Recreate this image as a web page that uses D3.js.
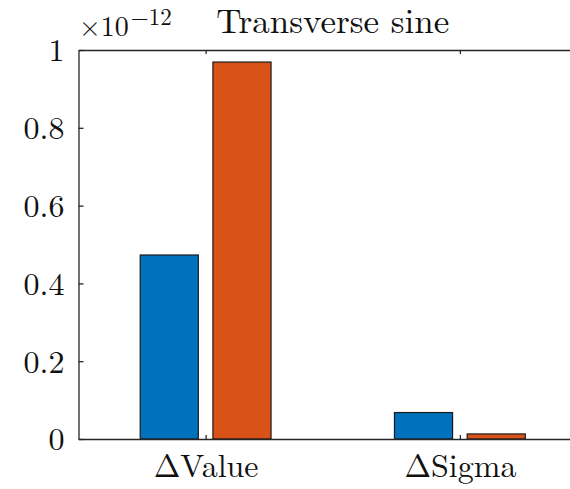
<!DOCTYPE html>
<head>
  <meta charset="utf-8">
  <title>Transverse sine</title>
  <script src="https://d3js.org/d3.v7.min.js"></script>
  <style>
    body { margin: 0; background: #fff; }
  </style>
</head>
<body>
<script type="text/javascript">

  // data (values in units of 1e-12)
  var categories = ["\u0394Value", "\u0394Sigma"];
  var series1 = [0.473, 0.068];   // blue
  var series2 = [0.969, 0.013];   // orange
  var yTicks = [0, 0.2, 0.4, 0.6, 0.8, 1];
  var yTickLabels = ["0", "0.2", "0.4", "0.6", "0.8", "1"];

  var w = 570;
  var h = 489;
  var font = "'Latin Modern Roman', 'CMU Serif', 'Liberation Serif', serif";

  var svg = d3.select("body")
    .append("svg")
    .attr("width", w)
    .attr("height", h);

  // MATLAB style: xlim [0.5, 2.5], axes cropped at the right
  var xScale = d3.scaleLinear()
    .domain([0.5, 2.5])
    .range([78.5, 587]);

  var yScale = d3.scaleLinear()
    .domain([0, 1])
    .range([439, 50]);

  var barW = 0.2286;
  var offs = [-0.143, 0.143];
  var colors = ["#0072BD", "#D95319"];

  var bars = [];
  categories.forEach(function(c, i) {
    bars.push({x: i + 1 + offs[0], v: series1[i], s: 0});
    bars.push({x: i + 1 + offs[1], v: series2[i], s: 1});
  });

  svg.selectAll("rect.bar")
    .data(bars)
    .enter()
    .append("rect")
    .attr("class", "bar")
    .attr("x", function(d) { return xScale(d.x - barW / 2); })
    .attr("width", function(d) { return xScale(d.x + barW / 2) - xScale(d.x - barW / 2); })
    .attr("y", function(d) { return yScale(d.v); })
    .attr("height", function(d) { return yScale(0) - yScale(d.v); })
    .attr("fill", function(d) { return colors[d.s]; })
    .attr("stroke", "#1a1a1a")
    .attr("stroke-width", 1.2);

  // y axis (ticks inside)
  var yAxis = d3.axisLeft(yScale)
    .tickValues(yTicks)
    .tickFormat(function(d, i) { return yTickLabels[i]; })
    .tickSizeInner(-5)
    .tickSizeOuter(0)
    .tickPadding(14);

  var gy = svg.append("g")
    .attr("transform", "translate(78.5,0)")
    .call(yAxis);
  gy.selectAll("text")
    .style("font-family", font)
    .style("font-size", "32px")
    .attr("fill", "#111")
    .attr("dy", "0.34em");

  // bottom x axis
  var xAxis = d3.axisBottom(xScale)
    .tickValues([1, 2])
    .tickFormat(function(d, i) { return categories[i]; })
    .tickSizeInner(-4)
    .tickSizeOuter(0)
    .tickPadding(15);

  var gx = svg.append("g")
    .attr("transform", "translate(0,439)")
    .call(xAxis);
  gx.selectAll("text")
    .style("font-family", font)
    .style("font-size", "32px")
    .attr("fill", "#111")
    .attr("dy", "0.71em");

  // top border with ticks
  var xTop = d3.axisTop(xScale)
    .tickValues([1, 2])
    .tickFormat("")
    .tickSizeInner(-4)
    .tickSizeOuter(0);

  svg.append("g")
    .attr("transform", "translate(0,50)")
    .call(xTop);

  svg.selectAll(".domain, .tick line")
    .attr("stroke", "#262626")
    .attr("stroke-width", 1.3);

  // exponent label
  var ex = svg.append("text")
    .attr("x", 79)
    .attr("y", 36)
    .attr("fill", "#111")
    .style("font-family", font)
    .style("font-size", "28px");
  ex.append("tspan").text("\u00d710");
  ex.append("tspan")
    .attr("dx", 2)
    .attr("dy", -11)
    .style("font-size", "23px")
    .text("\u221212");

  // title
  svg.append("text")
    .attr("x", (xScale(0.5) + xScale(2.5)) / 2)
    .attr("y", 33)
    .attr("text-anchor", "middle")
    .attr("fill", "#111")
    .style("font-family", font)
    .style("font-size", "35px")
    .text("Transverse sine");

</script>
</body>
</html>
